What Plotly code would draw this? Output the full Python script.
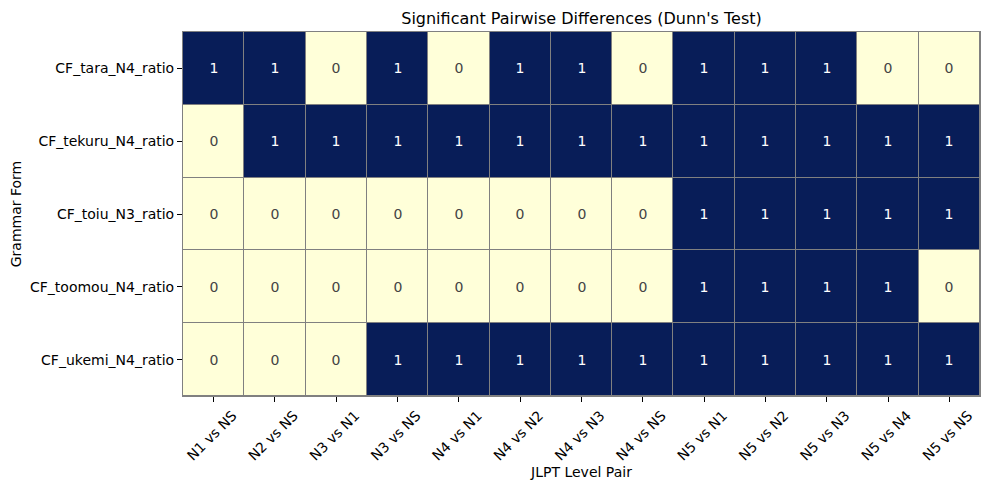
import plotly.graph_objects as go

pairs = ["N1 vs NS", "N2 vs NS", "N3 vs N1", "N3 vs NS", "N4 vs N1", "N4 vs N2",
         "N4 vs N3", "N4 vs NS", "N5 vs N1", "N5 vs N2", "N5 vs N3", "N5 vs N4", "N5 vs NS"]
forms = ["CF_tara_N4_ratio", "CF_tekuru_N4_ratio", "CF_toiu_N3_ratio",
         "CF_toomou_N4_ratio", "CF_ukemi_N4_ratio"]
tara = [1, 1, 0, 1, 0, 1, 1, 0, 1, 1, 1, 0, 0]
tekuru = [0, 1, 1, 1, 1, 1, 1, 1, 1, 1, 1, 1, 1]
toiu = [0, 0, 0, 0, 0, 0, 0, 0, 1, 1, 1, 1, 1]
toomou = [0, 0, 0, 0, 0, 0, 0, 0, 1, 1, 1, 1, 0]
ukemi = [0, 0, 0, 1, 1, 1, 1, 1, 1, 1, 1, 1, 1]
z = [tara, tekuru, toiu, toomou, ukemi]

font = "DejaVu Sans"
fig = go.Figure(go.Heatmap(
    z=z, x=pairs, y=forms,
    colorscale=[[0, "#ffffd9"], [1, "#081d58"]],
    zmin=0, zmax=1, showscale=False,
    xgap=1, ygap=1,
    text=[[str(v) for v in row] for row in z],
    texttemplate="%{text}",
    textfont=dict(family=font, size=14),
    hoverinfo="skip",
))

fig.update_layout(
    width=989, height=490,
    margin=dict(l=175, r=17, t=24, b=102, autoexpand=False),
    paper_bgcolor="white", plot_bgcolor="#808080",
    font=dict(family=font, size=14, color="black"),
    title=dict(text="Significant Pairwise Differences (Dunn's Test)", x=0.5, xanchor="center",
               xref="paper", y=1 - 10 / 490, yref="container", yanchor="middle",
               font=dict(size=16, family=font)),
)
fig.update_xaxes(
    title=dict(text="JLPT Level Pair", standoff=4, font=dict(size=14)),
    tickangle=-45, ticks="outside", ticklen=5, tickcolor="black", automargin=False,
    tickfont=dict(size=14), ticklabelshift=19,
    showgrid=False, zeroline=False, showline=True, linecolor="#808080", mirror=True,
)
fig.update_yaxes(
    title=dict(text="Grammar Form", standoff=6, font=dict(size=14)),
    autorange="reversed", ticks="outside", ticklen=5, tickcolor="black", automargin=False,
    tickfont=dict(size=14),
    showgrid=False, zeroline=False, showline=True, linecolor="#808080", mirror=True,
)

fig.write_html("out.html")
